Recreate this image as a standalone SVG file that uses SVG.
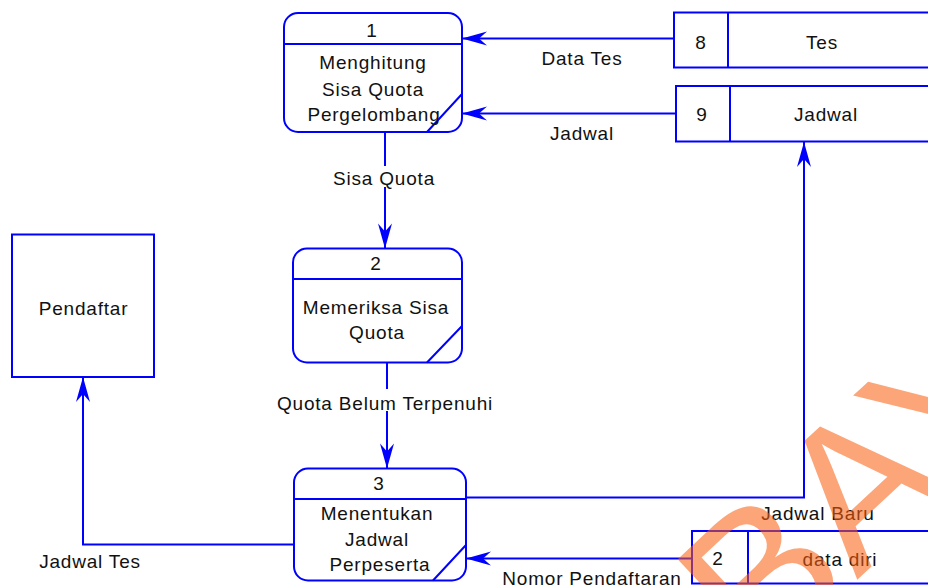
<svg xmlns="http://www.w3.org/2000/svg" width="928" height="585" viewBox="0 0 928 585">
  <style>
    .shape { fill: #ffffff; stroke: #0000ff; stroke-width: 2; }
    .edge { fill: none; stroke: #0000ff; stroke-width: 2; }
    .txt { font-family: "Liberation Sans", Arial, sans-serif; font-size: 19px; fill: #111111; letter-spacing: 0.8px; }
    .mid { text-anchor: middle; }
    .lblbg { fill: #ffffff; stroke: none; }
    .mark { font-family: "Liberation Sans", Arial, sans-serif; font-size: 200px; fill: #fa5f0f; opacity: 0.56; letter-spacing: 0; }
  </style>
  <defs>
    <marker id="arrow" markerUnits="userSpaceOnUse" viewBox="-26 -8 27 16" markerWidth="27" markerHeight="16" refX="0" refY="0" orient="auto">
      <path d="M0,0 L-25,-7 L-17,0 L-25,7 Z" fill="#0000ff"/>
    </marker>
  </defs>
  <rect width="928" height="585" fill="#ffffff"/>

  <!-- data flows -->
  <g id="connectors">
    <path class="edge" d="M674,38.5 H462" marker-end="url(#arrow)"/>
    <text class="txt mid" x="582" y="64.5">Data Tes</text>

    <path class="edge" d="M676,113.5 H462" marker-end="url(#arrow)"/>
    <text class="txt mid" x="582" y="140">Jadwal</text>

    <path class="edge" d="M385,132 V248.5" marker-end="url(#arrow)"/>
    <rect class="lblbg" x="330" y="166" width="108" height="21"/>
    <text class="txt mid" x="384" y="184.5">Sisa Quota</text>

    <path class="edge" d="M387,362.5 V468.5" marker-end="url(#arrow)"/>
    <rect class="lblbg" x="272" y="389" width="226" height="22"/>
    <text class="txt mid" x="385" y="409.5">Quota Belum Terpenuhi</text>

    <path class="edge" d="M466,497.5 H804 V142" marker-end="url(#arrow)"/>
    <text class="txt mid" x="818" y="519.5">Jadwal Baru</text>

    <path class="edge" d="M692,558.5 H466" marker-end="url(#arrow)"/>
    <text class="txt mid" x="592" y="585">Nomor Pendaftaran</text>

    <path class="edge" d="M294,544.5 H83 V377" marker-end="url(#arrow)"/>
    <text class="txt mid" x="90" y="567.5">Jadwal Tes</text>
  </g>

  <!-- processes -->
  <g id="process-1">
    <rect class="shape" x="284" y="13" width="178" height="119" rx="14"/>
    <path class="edge" d="M284,44 H462 M427,132 L462,94"/>
    <text class="txt mid" x="372" y="36.5">1</text>
    <text class="txt mid" x="373" y="69">Menghitung</text>
    <text class="txt mid" x="373" y="95.5">Sisa Quota</text>
    <text class="txt mid" x="374" y="120.5">Pergelombang</text>
  </g>

  <g id="process-2">
    <rect class="shape" x="293" y="248.5" width="169" height="114" rx="14"/>
    <path class="edge" d="M293,279 H462 M427,362.5 L462,326"/>
    <text class="txt mid" x="376" y="270">2</text>
    <text class="txt mid" x="376" y="314">Memeriksa Sisa</text>
    <text class="txt mid" x="377" y="339">Quota</text>
  </g>

  <g id="process-3">
    <rect class="shape" x="294" y="468.5" width="172" height="112" rx="14"/>
    <path class="edge" d="M294,499 H466 M433,580.5 L466,545"/>
    <text class="txt mid" x="379" y="490">3</text>
    <text class="txt mid" x="377" y="520">Menentukan</text>
    <text class="txt mid" x="377" y="546">Jadwal</text>
    <text class="txt mid" x="380" y="571">Perpeserta</text>
  </g>

  <!-- external entity -->
  <g id="pendaftar">
    <rect class="shape" x="12" y="234.5" width="142" height="142.5"/>
    <text class="txt mid" x="83.5" y="314.5">Pendaftar</text>
  </g>

  <!-- data stores (open on the right) -->
  <g id="store-8">
    <rect x="674" y="12.5" width="254" height="55" fill="#ffffff"/>
    <path class="edge" d="M930,12.5 H674 V67.5 H930 M728,12.5 V67.5"/>
    <text class="txt mid" x="701" y="48.5">8</text>
    <text class="txt mid" x="822" y="48.5">Tes</text>
  </g>

  <g id="store-9">
    <rect x="676" y="86" width="252" height="55.5" fill="#ffffff"/>
    <path class="edge" d="M930,86 H676 V141.5 H930 M730,86 V141.5"/>
    <text class="txt mid" x="702" y="120.5">9</text>
    <text class="txt mid" x="826" y="120.5">Jadwal</text>
  </g>

  <g id="store-2">
    <rect x="692" y="531" width="236" height="52.5" fill="#ffffff"/>
    <path class="edge" d="M930,531 H692 V583.5 H930 M748,531 V583.5"/>
    <text class="txt mid" x="718" y="565">2</text>
    <text class="txt mid" x="840" y="565.5">data diri</text>
  </g>

  <!-- diagonal watermark -->
  <text class="mark" x="759.5" y="671" transform="rotate(-43 759.5 671)">BAYA</text>
</svg>
